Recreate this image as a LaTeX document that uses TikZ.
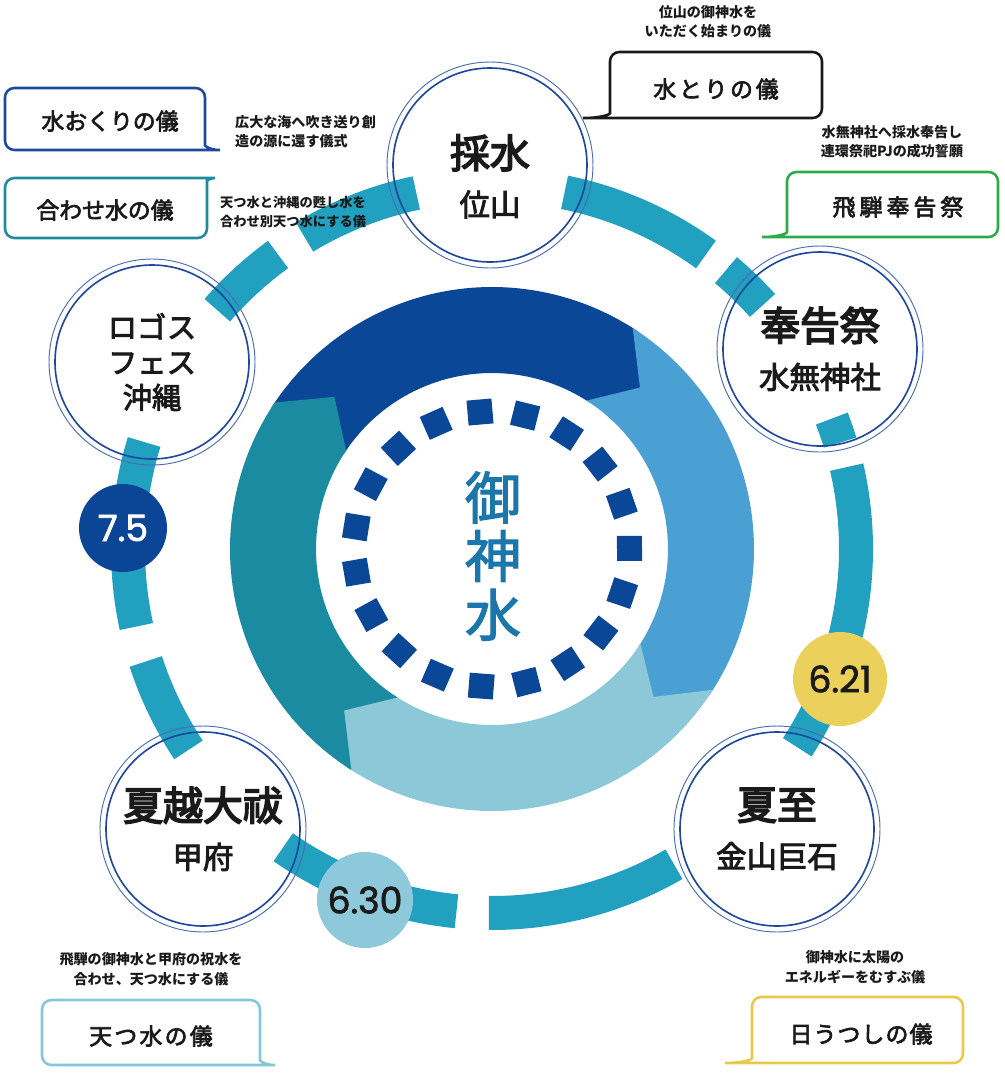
\documentclass[tikz,border=0pt]{standalone}
\usepackage{fontspec}
\setmainfont{Noto Sans CJK JP}
\newfontfamily\datefont[FakeBold=2]{Poppins}
\usetikzlibrary{positioning}
\definecolor{ringband}{HTML}{21A0C0}
\definecolor{stationnavy}{HTML}{1E479D}
\definecolor{wheeldark}{HTML}{0A4797}
\definecolor{wheelsky}{HTML}{4BA0D3}
\definecolor{wheelpale}{HTML}{8CC8D8}
\definecolor{wheelteal}{HTML}{1A8BA0}
\definecolor{coreblue}{HTML}{1B76AB}
\definecolor{datenavy}{HTML}{0B4596}
\definecolor{dategold}{HTML}{EBD15C}
\definecolor{datepale}{HTML}{8DC9DA}
\definecolor{bubblenavy}{HTML}{1F4A9B}
\definecolor{bubbleteal}{HTML}{1F8B9D}
\definecolor{bubbleblack}{HTML}{1A1A1A}
\definecolor{bubblegreen}{HTML}{2EAA4C}
\definecolor{bubblesky}{HTML}{82C7DA}
\definecolor{bubblegold}{HTML}{E9C94C}
\definecolor{inkblack}{HTML}{1A1A1A}
\newcommand{\bigname}{\fontsize{34pt}{41pt}\selectfont\addfontfeature{FakeBold=4}}
\newcommand{\spaced}[1]{\addfontfeature{LetterSpace=#1}}
\tikzset{station/.style={circle, draw=stationnavy, line width=1.4pt, minimum size=5.82cm,
           inner sep=0pt, align=center, text=inkblack,
           font=\fontsize{26pt}{41pt}\selectfont\addfontfeature{FakeBold=3}},
         stationrim/.style={draw=stationnavy!80, line width=0.8pt},
         datedot/.style={circle, inner sep=0pt, font=\datefont\fontsize{31pt}{31pt}\selectfont},
         bubble/.style={line width=2.2pt, rounded corners=8pt},
         bubbletext/.style={text=inkblack, font=\fontsize{19.5pt}{20pt}\selectfont\addfontfeature{FakeBold=3}},
         notetext/.style={text=inkblack, inner sep=0pt, align=center,
           font=\bfseries\fontsize{12pt}{16.5pt}\selectfont},
         ringpart/.style={draw=ringband, line width=1.02cm},
         dropsq/.style={fill=wheeldark},
         coretext/.style={text=coreblue, align=center,
           font=\fontsize{48pt}{50pt}\selectfont\addfontfeature{FakeBold=2}}}

\begin{document}
\begin{tikzpicture}[x=0.03cm, y=-0.03cm]
\useasboundingbox (0,0) rectangle (1005,1080);

% the wheel of four arrows, the dotted ring and the broken band
\begin{scope}[shift={(492,549)}, y=0.03cm]
	\foreach \p/\h/\col in {136/46/wheeldark, 46/-44/wheelsky, -44/-134/wheelpale, -134/-224/wheelteal}
		\fill[\col] ({\p+11.5}:262) arc[start angle={\p+11.5}, end angle={\h+10}, radius=262]
			-- (\h:219) -- ({\h+10}:176) arc[start angle={\h+10}, end angle={\p+11.5}, radius=176]
			-- ({\p+1.5}:219) -- cycle;
	\foreach \k in {0,...,18}
		\fill[dropsq, rotate={95-\k*360/19}] (125,-12.5) rectangle (150,12.5);
	\node[coretext] (core) at (1,-7) {御\\神\\水};
	\foreach \a/\b in {139/126, 121/102, 78.5/54, 50/42, 21/17, 13/-33, -60/-90.5, -95.6/-125, -146.5/-162, -167.7/-197.1}
		\draw[ringpart] (\a:364) arc[start angle=\a, end angle=\b, radius=364];
\end{scope}

% stations
\node[station] (caisui) at (490,165) {{\bigname\rule{0pt}{48pt}採水}\\位山};
\node[station] (hokoku) at (820,349) {{\bigname 奉告祭}\\水無神社};
\node[station] (geshi) at (777,829) {{\bigname 夏至}\\金山巨石};
\node[station] (nagoshi) at (203,829) {{\bigname 夏越大祓}\\甲府};
\node[station, font=\fontsize{25pt}{30pt}\selectfont\addfontfeature{FakeBold=3}] (logos) at (152,362) {ロゴス\\フェス\\沖縄};
\foreach \s in {caisui, hokoku, geshi, nagoshi, logos}
	\draw[stationrim] (\s.center) circle[radius=103];

% dates
\node[datedot, fill=datenavy, text=white, minimum size=2.64cm] (d75) at (123,528) {7.5};
\node[datedot, fill=dategold, text=inkblack, minimum size=2.82cm] (d621) at (840,679) {6.21};
\node[datedot, fill=datepale, text=inkblack, minimum size=2.88cm] (d630) at (365,900) {6.30};

% speech bubbles
\draw[bubble, bubblenavy] (220,150) -- (5,150) -- (5,88) -- (205,88) -- (205,136)
	.. controls (205,146) and (210,150) .. (220,150);
\node[bubbletext] (okuri) at (110,121) {水おくりの儀};
\draw[bubble, bubbleteal] (215,178) -- (5,178) -- (5,238) -- (207,238) -- (207,190)
	.. controls (207,181) and (210,178) .. (215,178);
\node[bubbletext] (awase) at (105,210) {合わせ水の儀};
\draw[bubble, bubbleblack] (583,118) -- (822,118) -- (822,52) -- (610,52) -- (610,104)
	.. controls (610,114) and (603,118) .. (583,118);
\node[bubbletext] (mizutori) at (716,89) {\spaced{12}水とりの儀};
\draw[bubble, bubblegreen] (762,237) -- (998,237) -- (998,172) -- (787,172) -- (787,223)
	.. controls (787,233) and (780,237) .. (762,237);
\node[bubbletext] (hida) at (898,207) {\spaced{18}飛騨奉告祭};
\draw[bubble, bubblesky] (275,1065) -- (42,1065) -- (42,1000) -- (260,1000) -- (260,1051)
	.. controls (260,1061) and (265,1065) .. (275,1065);
\node[bubbletext] (amatsu) at (151,1036) {\spaced{10}天つ水の儀};
\draw[bubble, bubblegold] (725,1063) -- (963,1063) -- (963,997) -- (752,997) -- (752,1049)
	.. controls (752,1059) and (745,1063) .. (725,1063);
\node[bubbletext] (hiutsushi) at (861,1034) {\spaced{5}日うつしの儀};

% notes
\node[notetext] (mizutorinote) at (708,22) {位山の御神水を\\いただく始まりの儀};
\node[notetext] (hidanote) at (892,142) {水無神社へ採水奉告し\\連環祭祀PJの成功誓願};
\node[notetext, anchor=west, align=left] (okurinote) at (235,132) {広大な海へ吹き送り創\\造の源に還す儀式};
\node[notetext, anchor=west, align=left, font=\bfseries\fontsize{11.3pt}{16pt}\selectfont] (awasenote) at (220,212) {天つ水と沖縄の甦し水を\\合わせ別天つ水にする儀};
\node[notetext] (amatsunote) at (151,969) {飛騨の御神水と甲府の祝水を\\合わせ、天つ水にする儀};
\node[notetext] (hiutsushinote) at (855,967) {御神水に太陽の\\エネルギーをむすぶ儀};
\end{tikzpicture}
\end{document}
